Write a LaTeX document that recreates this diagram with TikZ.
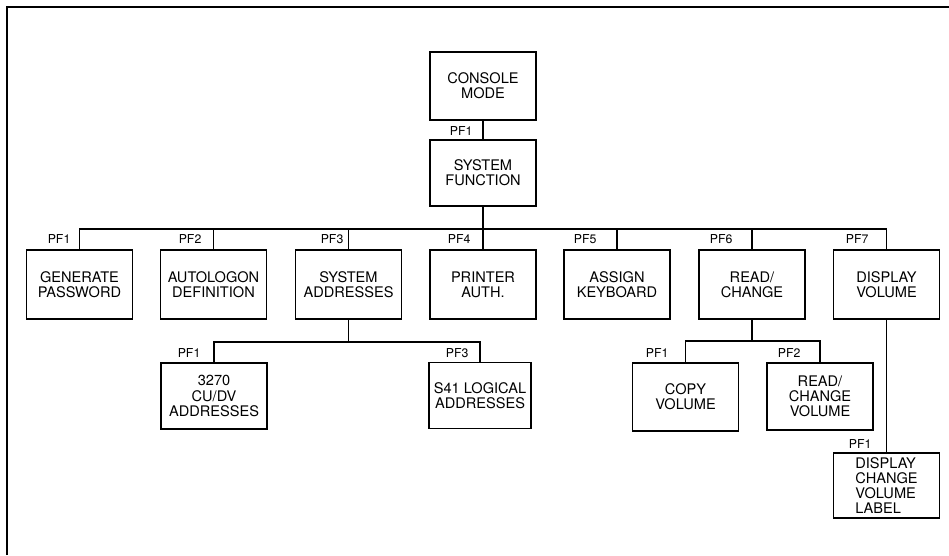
\documentclass[tikz,border=0pt]{standalone}
\usepackage{fontspec}
\setmainfont{TeX Gyre Heros}
\usepackage{tikz}
\usetikzlibrary{positioning}

\begin{document}
\begin{tikzpicture}[x=0.02cm, y=-0.02cm, line width=0.9pt,
        box/.style={draw, minimum width=2.12cm, minimum height=1.36cm,
                    align=center, inner sep=2pt,
                    font=\fontsize{8.3}{8.6}\selectfont},
        pf/.style={anchor=south west, inner sep=0pt,
                   font=\fontsize{7}{7}\selectfont}]
        \useasboundingbox (0,0) rectangle (949,555);
        % page frame (top and left edges only)
        \draw[line width=1.1pt] (7,555) -- (7,7) -- (949,7);

        % top of the tree
        \node[box] (console) at (483,86) {CONSOLE\\MODE};
        \node[box, minimum height=1.32cm] (sysfn) at (483,173) {SYSTEM\\FUNCTION};
        \node[pf] (pfsys) at (449,136) {PF1};
        \draw (console) -- (sysfn);

        % function row
        \node[box, minimum height=1.38cm] (gen) at (79.5,284.5) {GENERATE\\PASSWORD};
        \node[box, minimum height=1.38cm] (autolog) at (213.5,284.5) {AUTOLOGON\\DEFINITION};
        \node[box, minimum height=1.38cm] (sysaddr) at (348.5,284.5) {SYSTEM\\ADDRESSES};
        \node[box, minimum height=1.38cm] (printer) at (483,284.5) {PRINTER\\AUTH.};
        \node[box, minimum height=1.38cm] (assign) at (617,284.5) {ASSIGN\\KEYBOARD};
        \node[box, minimum height=1.38cm] (readch) at (752,284.5) {READ/\\CHANGE};
        \node[box, minimum height=1.38cm] (dispvol) at (886.5,284.5) {DISPLAY\\VOLUME};

        \node[pf] (pfgen) at (47,244) {PF1};
        \node[pf] (pfauto) at (178,244) {PF2};
        \node[pf] (pfaddr) at (320,244) {PF3};
        \node[pf] (pfprint) at (447,244) {PF4};
        \node[pf] (pfassign) at (573,244) {PF5};
        \node[pf] (pfread) at (709,244) {PF6};
        \node[pf] (pfdisp) at (845,244) {PF7};

        \coordinate (bus) at (483,229);
        \draw (sysfn) -- (sysfn |- bus);
        \draw (gen.north) -- (gen.north |- bus) -- (dispvol.north |- bus) -- (dispvol.north);
        \foreach \n in {autolog, sysaddr, printer, assign, readch}
            \draw (\n.north) -- (\n.north |- bus);

        % system addresses branch
        \node[box, minimum height=1.32cm] (cudv) at (214,396) {3270\\CU/DV\\ADDRESSES};
        \node[box, minimum height=1.32cm, minimum width=2.04cm] (logaddr) at (480,395.5) {S41 LOGICAL\\ADDRESSES};
        \node[pf] (pfcudv) at (177,358) {PF1};
        \node[pf] (pflog) at (445,358) {PF3};
        \coordinate (addrbus) at (348,342);
        \draw (sysaddr) -- (sysaddr |- addrbus);
        \draw (cudv.north) -- (cudv.north |- addrbus) -- (logaddr.north |- addrbus) -- (logaddr.north);

        % read/change branch
        \node[box, minimum height=1.36cm] (copyvol) at (685.5,397) {COPY\\VOLUME};
        \node[box, minimum height=1.34cm] (rcvol) at (820,396.5) {READ/\\CHANGE\\VOLUME};
        \node[pf] (pfcopy) at (645,358) {PF1};
        \node[pf] (pfrc) at (777,358) {PF2};
        \coordinate (readbus) at (752,341);
        \draw (readch) -- (readch |- readbus);
        \draw (copyvol.north) -- (copyvol.north |- readbus) -- (rcvol.north |- readbus) -- (rcvol.north);

        % display volume branch
        \node[box, minimum height=1.3cm, align=left, inner sep=1pt] (dcvl) at (886.5,485.5)
              {DISPLAY\\CHANGE\\VOLUME\\LABEL};
        \node[pf] (pfdcvl) at (848,449) {PF1};
        \draw (dispvol) -- (dcvl);
    \end{tikzpicture}
\end{document}
